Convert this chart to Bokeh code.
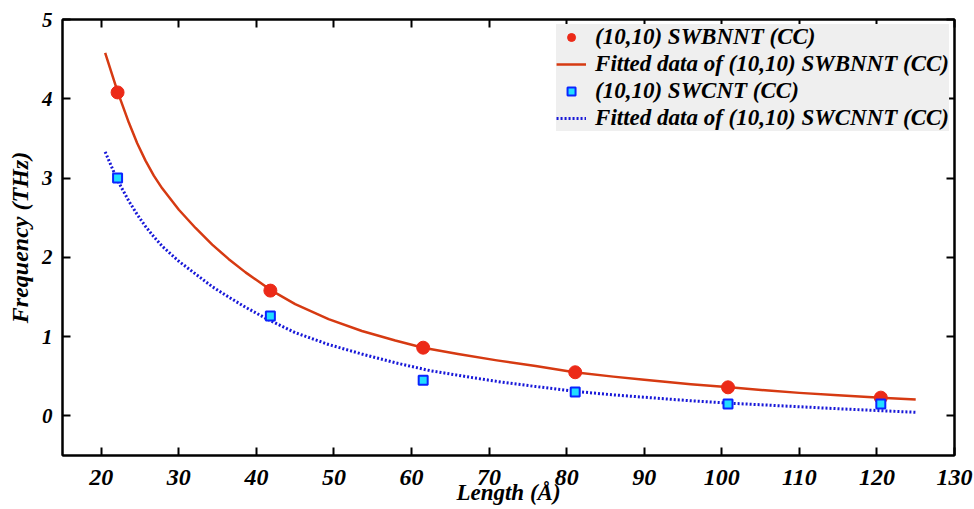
from bokeh.plotting import figure
from bokeh.models import Range1d, FixedTicker, LinearAxis, Legend, LegendItem, CustomJSTickFormatter
from bokeh.embed import file_html
from bokeh.resources import INLINE

# ---- data ----
length_bn = [22.1, 41.8, 61.5, 81.1, 100.8, 120.5]
freq_bn = [4.08, 1.58, 0.86, 0.55, 0.36, 0.23]

length_cnt = [22.1, 41.8, 61.5, 81.1, 100.8, 120.5]
freq_cnt = [3.00, 1.26, 0.45, 0.30, 0.15, 0.15]

fit_len_bn = [20.5, 22.1, 23.55, 24.63, 25.7, 26.77, 27.85, 30.0, 32.15, 34.3, 36.4,
              38.6, 41.8, 45.0, 49.3, 53.6, 57.9, 61.5, 66.0, 71.0, 76.0, 81.0,
              86.0, 90.0, 96.0, 101.0, 106.0, 110.0, 115.0, 120.5, 125.0]
fit_freq_bn = [4.58, 4.09, 3.70, 3.44, 3.22, 3.03, 2.87, 2.60, 2.37, 2.16, 1.98,
               1.81, 1.59, 1.41, 1.22, 1.07, 0.95, 0.86, 0.78, 0.70, 0.63, 0.55,
               0.495, 0.455, 0.40, 0.36, 0.32, 0.29, 0.26, 0.23, 0.205]

fit_len_cnt = [20.5, 22.05, 23.55, 24.63, 25.7, 26.77, 27.85, 30.0, 32.15, 34.3, 36.4,
               38.6, 41.4, 45.0, 49.3, 53.6, 57.9, 62.4, 68.0, 72.0, 76.0, 81.0,
               86.0, 90.0, 96.0, 101.0, 106.0, 110.0, 115.0, 120.5, 125.0]
fit_freq_cnt = [3.33, 2.98, 2.71, 2.54, 2.39, 2.26, 2.14, 1.95, 1.79, 1.63, 1.50,
                1.37, 1.22, 1.05, 0.90, 0.78, 0.67, 0.57, 0.48, 0.42, 0.37, 0.31,
                0.265, 0.235, 0.19, 0.16, 0.135, 0.115, 0.09, 0.065, 0.045]

x_ticks = [20, 30, 40, 50, 60, 70, 80, 90, 100, 110, 120, 130]
y_ticks = [0, 1, 2, 3, 4, 5]

x_title = "Length (Å)"
y_title = "Frequency (THz)"
labels = ["(10,10) SWBNNT (CC)",
          "Fitted data of (10,10) SWBNNT (CC)",
          "(10,10) SWCNT (CC)",
          "Fitted data of (10,10) SWCNNT (CC)"]

FONT = "Liberation Serif"

p = figure(width=974, height=509, x_range=Range1d(15, 130), y_range=Range1d(-0.5, 5),
           output_backend="svg", toolbar_location=None,
           min_border_left=62, min_border_right=20, min_border_top=19, min_border_bottom=54)
p.xgrid.visible = False
p.ygrid.visible = False
p.outline_line_color = "black"
p.outline_line_width = 2
p.background_fill_color = "white"
p.border_fill_color = "white"

def style_axis(ax, ticks, size, show_labels=True):
    ax.ticker = FixedTicker(ticks=ticks)
    ax.axis_line_color = "black"
    ax.axis_line_width = 2
    ax.major_tick_in = 8
    ax.major_tick_out = 0
    ax.major_tick_line_width = 2
    ax.major_tick_line_color = "black"
    ax.minor_tick_line_color = None
    ax.major_label_text_font = FONT
    ax.major_label_text_font_style = "bold italic"
    ax.major_label_text_font_size = size
    ax.major_label_text_color = "black"
    if not show_labels:
        ax.formatter = CustomJSTickFormatter(code="return ''")
        ax.major_label_standoff = 0

style_axis(p.xaxis[0], x_ticks, "24px")
p.xaxis[0].major_label_standoff = 14
p.xaxis[0].axis_label = x_title
p.xaxis[0].axis_label_standoff = -8

style_axis(p.yaxis[0], y_ticks, "21px")
p.yaxis[0].major_label_standoff = 10
p.yaxis[0].axis_label = y_title
p.yaxis[0].axis_label_standoff = 6

for ax, fs in ((p.xaxis[0], "23px"), (p.yaxis[0], "24px")):
    ax.axis_label_text_font = FONT
    ax.axis_label_text_font_style = "bold italic"
    ax.axis_label_text_font_size = fs
    ax.axis_label_text_color = "black"

top_ax = LinearAxis()
style_axis(top_ax, x_ticks, "1px", show_labels=False)
p.add_layout(top_ax, "above")
right_ax = LinearAxis()
style_axis(right_ax, y_ticks, "1px", show_labels=False)
p.add_layout(right_ax, "right")

r_fit_bn = p.line(fit_len_bn, fit_freq_bn, line_color="#d63a12", line_width=2.5,
                  line_join="round")
r_fit_cnt = p.line(fit_len_cnt, fit_freq_cnt, line_color="#1818d8", line_width=3,
                   line_dash="2 2", line_join="round")
r_bn = p.scatter(length_bn, freq_bn, marker="circle", size=13,
                 fill_color="#ec2a18", line_color="#ec2a18")
r_cnt = p.scatter(length_cnt, freq_cnt, marker="square", size=9,
                  fill_color="#22ddff", line_color="#0a24ff", line_width=2)

legend = Legend(items=[LegendItem(label=labels[0], renderers=[r_bn]),
                       LegendItem(label=labels[1], renderers=[r_fit_bn]),
                       LegendItem(label=labels[2], renderers=[r_cnt]),
                       LegendItem(label=labels[3], renderers=[r_fit_cnt])],
                location="top_right")
legend.margin = 5
legend.padding = 8
legend.spacing = 1
legend.glyph_width = 30
legend.glyph_height = 20
legend.label_height = 20
legend.label_standoff = 9
legend.label_text_font = FONT
legend.label_text_font_style = "bold italic"
legend.label_text_font_size = "23px"
legend.label_text_color = "black"
legend.background_fill_color = "#efefef"
legend.background_fill_alpha = 1.0
legend.border_line_color = None
p.add_layout(legend)

open("out.html", "w").write(file_html(p, INLINE))
